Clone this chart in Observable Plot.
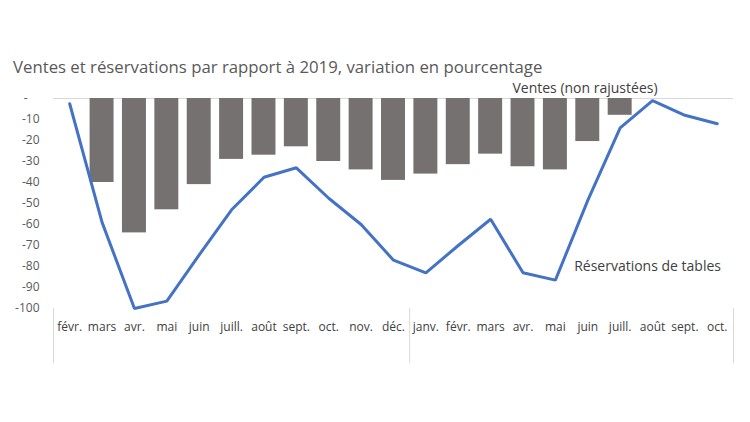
<!DOCTYPE html>
<html><head><meta charset="utf-8">
<script src="https://cdn.jsdelivr.net/npm/d3@7"></script>
<script src="https://cdn.jsdelivr.net/npm/@observablehq/plot@0.6"></script>
<style>
body{margin:0;background:#fff;font-family:"Open Sans",sans-serif;}
#title{box-sizing:border-box;height:75px;padding:57px 0 0 13px;font-size:16.75px;line-height:20px;color:#595959;white-space:nowrap;}
</style></head><body>
<div id="title">Ventes et réservations par rapport à 2019, variation en pourcentage</div>
<div id="chart"></div>
<script>
const periods = ["2020-02","2020-03","2020-04","2020-05","2020-06","2020-07","2020-08","2020-09","2020-10","2020-11","2020-12",
                 "2021-01","2021-02","2021-03","2021-04","2021-05","2021-06","2021-07","2021-08","2021-09","2021-10"];
const monthLabels = ["févr.","mars","avr.","mai","juin","juill.","août","sept.","oct.","nov.","déc.",
                     "janv.","févr.","mars","avr.","mai","juin","juill.","août","sept.","oct."];
const ventes = [null,-40,-64,-53,-41,-29,-27,-23,-30,-34,-39,-36,-31.5,-26.5,-32.5,-34,-20.5,-8,null,null,null];
const reservations = [-2.5,-59,-100,-96.5,-74.5,-53,-37.5,-33,-47.5,-60,-77,-83,-70,-57.5,-83,-86.5,-48.5,-14,-1,-8,-12];
const yTicks = [0,-10,-20,-30,-40,-50,-60,-70,-80,-90,-100];
const seriesLabels = {ventes:"Ventes (non rajustées)", reservations:"Réservations de tables"};

const data = periods.map((p,i)=>({period:p, ventes:ventes[i], reservations:reservations[i]}));
const W=750, H=347, ML=53, MR=17, MT=23, MB=114;
const step=(W-ML-MR)/periods.length;

const plot = Plot.plot({
  width:W, height:H, marginLeft:ML, marginRight:MR, marginTop:MT, marginBottom:MB,
  style:{fontFamily:"'Open Sans',sans-serif", fontSize:"12px", color:"#595959", background:"#fff", overflow:"visible"},
  x:{domain:periods, paddingInner:0.26, paddingOuter:0.13, round:false, axis:null},
  y:{domain:[-100,0], axis:null},
  marks:[
    Plot.ruleY([0],{stroke:"#d9d9d9", strokeWidth:1}),
    Plot.barY(data.filter(d=>d.ventes!=null),{x:"period", y:"ventes", fill:"#767171"}),
    Plot.lineY(data,{x:"period", y:"reservations", stroke:"#4472c4", strokeWidth:3, strokeLinejoin:"miter"}),
    Plot.axisY(yTicks,{tickSize:0, tickPadding:14, tickFormat:d=>d===0?"-\u2002\u2002":String(d), fill:"#595959", fontSize:12, label:null}),
    Plot.axisX({tickSize:0, tickPadding:14, tickFormat:d=>monthLabels[periods.indexOf(d)], fill:"#404040", fontSize:12, label:null}),
    Plot.ruleX(["2020-02","2021-01"],{stroke:"#d9d9d9", dx:-step/2, insetTop:H-MT-MB, insetBottom:-55}),
    Plot.ruleX(["2021-10"],{stroke:"#d9d9d9", dx:step/2, insetTop:H-MT-MB, insetBottom:-55}),
    Plot.text([{period:"2021-08", v:0, t:seriesLabels.ventes}],{x:"period", y:"v", text:"t", textAnchor:"end", dx:5, dy:-10, fontSize:14, fill:"#404040"}),
    Plot.text([{period:"2021-08", v:-80, t:seriesLabels.reservations}],{x:"period", y:"v", text:"t", textAnchor:"middle", dx:-5, fontSize:14, fill:"#404040"})
  ]
});
document.getElementById("chart").appendChild(plot);
</script>
</body></html>
